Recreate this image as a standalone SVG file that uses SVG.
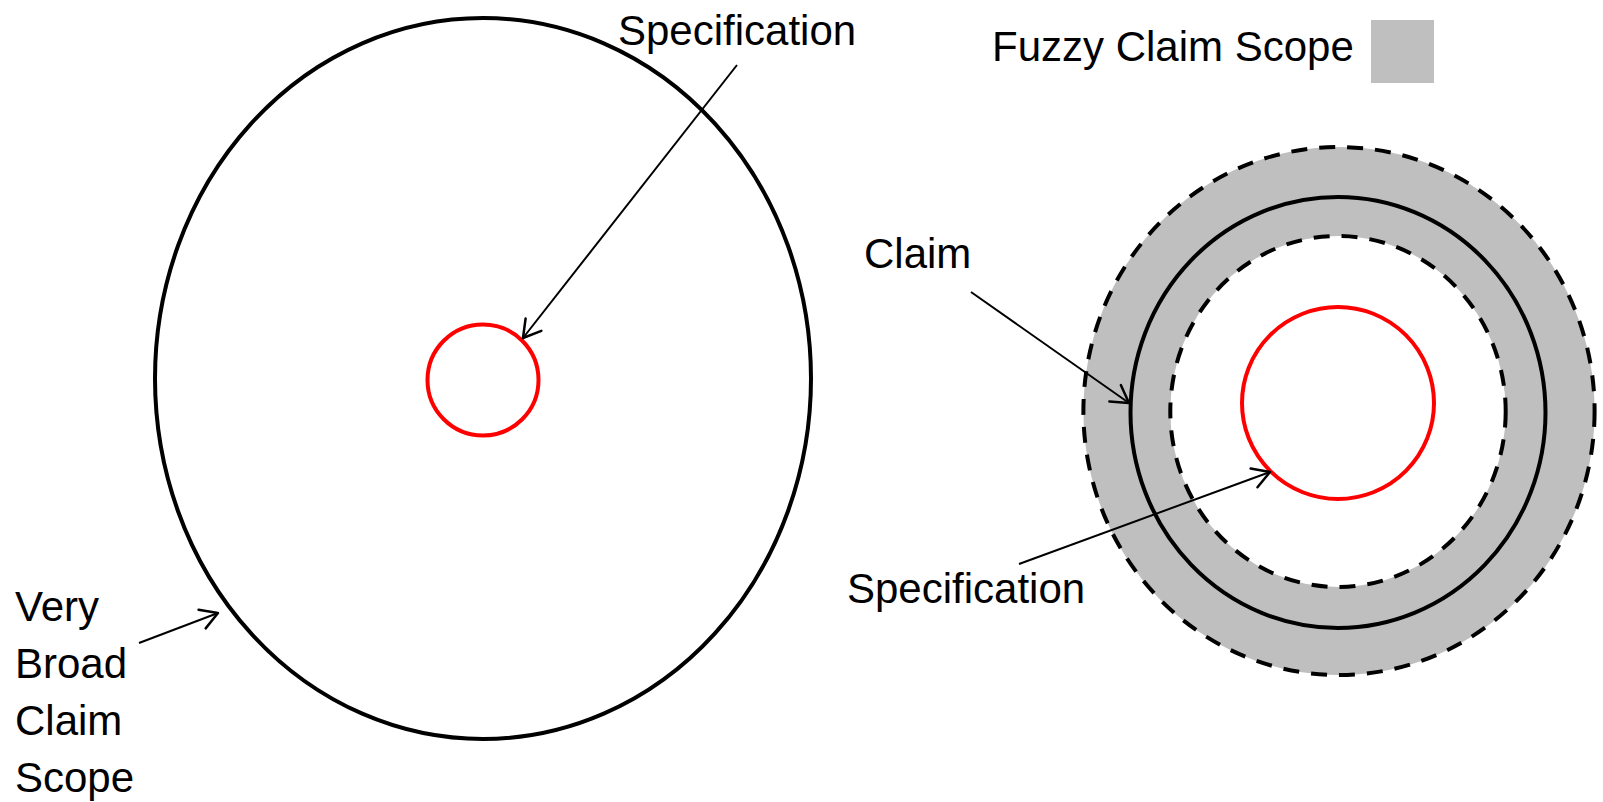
<svg xmlns="http://www.w3.org/2000/svg" width="1603" height="802" viewBox="0 0 1603 802">
  <style>
    .label { font-family: "Liberation Sans", Arial, sans-serif; font-size: 42px; fill: #000; }
    .outline { fill: none; stroke: #000; stroke-width: 4; }
    .dashed { fill: none; stroke: #000; stroke-width: 4; stroke-dasharray: 16 12; }
    .spec { fill: none; stroke: #ff0000; stroke-width: 4; }
    .pointer { fill: none; stroke: #000; stroke-width: 2; marker-end: url(#open-arrow); }
  </style>
  <defs>
    <marker id="open-arrow" markerUnits="userSpaceOnUse" markerWidth="40" markerHeight="40" viewBox="-20 -20 40 40" refX="0" refY="0" orient="auto">
      <path d="M -17,-10 L 0,0 L -17,10" fill="none" stroke="#000" stroke-width="2.5" stroke-linecap="round" stroke-linejoin="round"/>
    </marker>
  </defs>
  <rect width="1603" height="802" fill="#fff"/>

  <!-- Left: very broad claim around a small specification -->
  <g id="broad-claim">
    <ellipse class="outline" cx="483" cy="378.5" rx="328" ry="360.5"/>
  </g>
  <g id="spec-left">
    <circle class="spec" cx="483" cy="380" r="55.5"/>
  </g>

  <!-- Right: fuzzy scope band around the claim -->
  <g id="fuzzy-scope">
    <ellipse cx="1339" cy="411" rx="255.6" ry="264" fill="#bfbfbf"/>
    <ellipse cx="1338" cy="411.5" rx="167.7" ry="175.5" fill="#fff"/>
    <ellipse class="dashed" cx="1339" cy="411" rx="255.6" ry="264"/>
    <ellipse class="dashed" cx="1338" cy="411.5" rx="167.7" ry="175.5"/>
  </g>
  <g id="claim">
    <ellipse class="outline" cx="1338" cy="412.5" rx="207.5" ry="215.5"/>
  </g>
  <g id="spec-right">
    <circle class="spec" cx="1338" cy="403" r="96"/>
  </g>

  <!-- Legend -->
  <g id="legend">
    <text class="label" x="992" y="61">Fuzzy Claim Scope</text>
    <rect x="1371" y="20" width="63" height="63" fill="#bfbfbf"/>
  </g>

  <!-- Labels -->
  <g id="label-spec-top">
    <text class="label" x="618" y="45">Specification</text>
  </g>
  <g id="label-broad">
    <text class="label" x="15" y="621">Very</text>
    <text class="label" x="15" y="678">Broad</text>
    <text class="label" x="15" y="735">Claim</text>
    <text class="label" x="15" y="792">Scope</text>
  </g>
  <g id="label-claim">
    <text class="label" x="864" y="268">Claim</text>
  </g>
  <g id="label-spec-bottom">
    <text class="label" x="847" y="603">Specification</text>
  </g>

  <!-- Connectors -->
  <g id="connectors">
    <line class="pointer" x1="737" y1="65" x2="523" y2="338"/>
    <line class="pointer" x1="139" y1="643" x2="218" y2="613"/>
    <line class="pointer" x1="971" y1="292" x2="1129" y2="403"/>
    <line class="pointer" x1="1019" y1="564" x2="1270" y2="472"/>
  </g>
</svg>
